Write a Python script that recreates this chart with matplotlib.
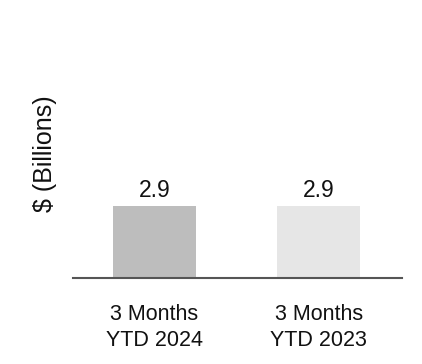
import matplotlib
matplotlib.use("Agg")
import matplotlib.pyplot as plt

categories = ["3 Months\nYTD 2024", "3 Months\nYTD 2023"]
values = [2.9, 2.9]
labels = ["2.9", "2.9"]
colors = ["#bdbdbd", "#e6e6e6"]

plt.rcParams['font.family'] = ['Liberation Sans', 'DejaVu Sans']

fig = plt.figure(figsize=(4.22, 3.64), dpi=100)
ax = fig.add_axes([73/422, 1-278/364, 329/422, 218/364])

x = list(range(len(categories)))
bars = ax.bar(x, values, width=0.505, color=colors)
for xi, v, lab in zip(x, values, labels):
    ax.text(xi, v + 0.38, lab, ha="center", va="baseline", fontsize=16.5, color="#111111")

ax.set_xlim(-0.495, 1.505)
ax.set_ylim(0, 8.8)
ax.set_xticks(x)
ax.set_xticklabels(categories, fontsize=15.5, color="#111111", linespacing=1.3)
ax.tick_params(axis="x", length=0, pad=19)
ax.set_yticks([])
for s in ["top", "right", "left"]:
    ax.spines[s].set_visible(False)
ax.spines["bottom"].set_color("#555555")
ax.spines["bottom"].set_linewidth(1.5)

fig.text(45/422, 1-154/364, "$ (Billions)", rotation=90, ha="center", va="center",
         fontsize=18, color="#111111")

fig.savefig("out.png", dpi=100)
